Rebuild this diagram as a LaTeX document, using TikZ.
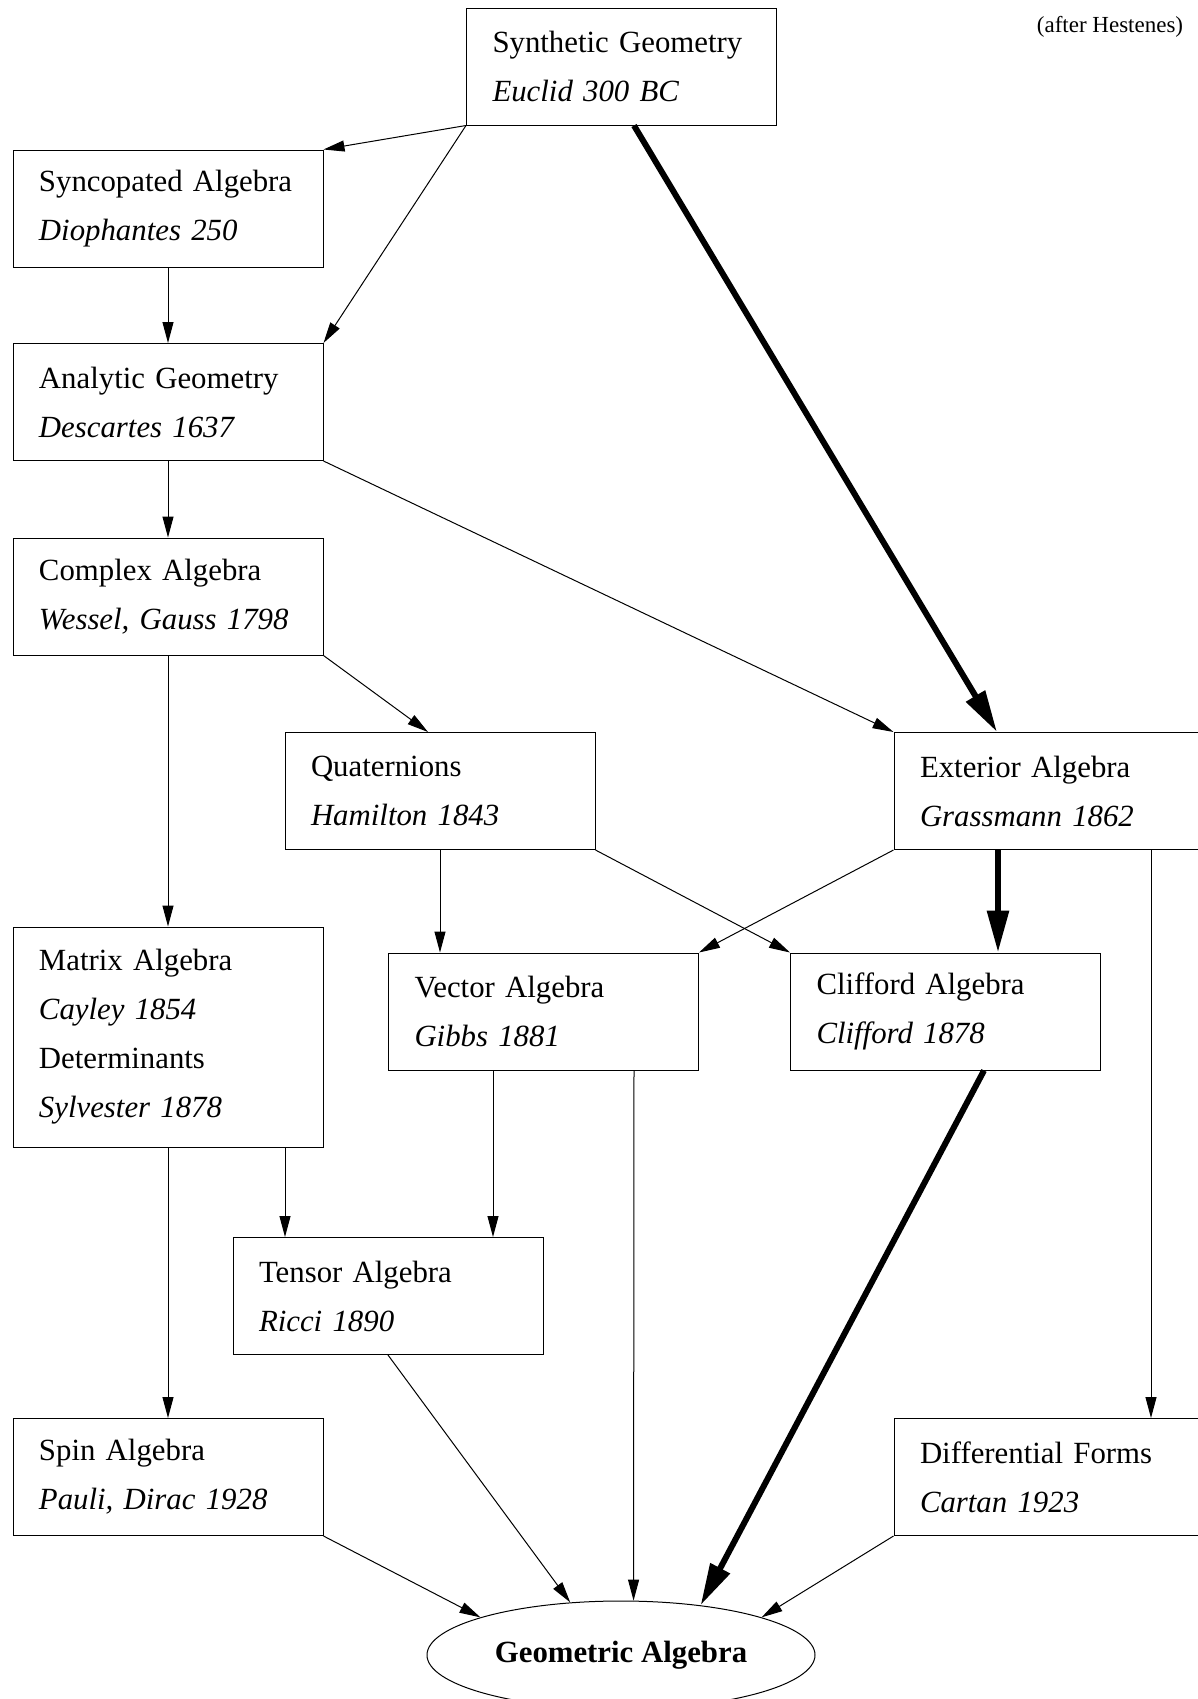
\documentclass[tikz,border=0pt]{standalone}
\usepackage{fontspec}
\setmainfont{Liberation Serif}
\usetikzlibrary{arrows.meta,calc,shapes.geometric}

\tikzset{
  algbox/.style={draw,line width=0.5pt,rectangle,minimum width=155pt,minimum height=58.5pt,
    inner xsep=13pt,inner ysep=0pt,text width=129pt,align=left,
    font=\fontsize{15.4}{24.5}\selectfont},
  thinarr/.style={line width=0.5pt,-{Triangle[length=10.5pt,width=5.5pt]}},
  thickarr/.style={line width=3pt,-{Triangle[length=21pt,width=10.5pt]}}
}

\begin{document}
\begin{tikzpicture}[x=0.5pt,y=-0.5pt]
\useasboundingbox (0,0) rectangle (1198,1699);

\node[font=\fontsize{11.5}{13}\selectfont] (note) at (1110,27) {(after Hestenes)};

\node[algbox] (synth) at (621.5,66.5) {Synthetic Geometry\\\textit{Euclid 300 BC}};
\node[algbox] (sync) at (168,208.5) {Syncopated Algebra\\\textit{Diophantes 250}};
\node[algbox] (analytic) at (168,402) {Analytic Geometry\\\textit{Descartes 1637}};
\node[algbox] (complex) at (168,596.5) {Complex Algebra\\\textit{Wessel, Gauss 1798}};
\node[algbox] (quat) at (440,791) {Quaternions\\\textit{Hamilton 1843}};
\node[algbox] (exterior) at (1049,791) {Exterior Algebra\\\textit{Grassmann 1862}};
\node[algbox,minimum height=110pt] (matrix) at (168,1037) {Matrix Algebra\\\textit{Cayley 1854}\\Determinants\\\textit{Sylvester 1878}};
\node[algbox] (vector) at (543.5,1011.5) {Vector Algebra\\\textit{Gibbs 1881}};
\node[algbox] (clifford) at (945.5,1011.5) {Clifford Algebra\\\textit{Clifford 1878}};
\node[algbox] (tensor) at (388,1296) {Tensor Algebra\\\textit{Ricci 1890}};
\node[algbox] (spin) at (168,1477) {Spin Algebra\\\textit{Pauli, Dirac 1928}};
\node[algbox] (diff) at (1049,1477) {Differential Forms\\\textit{Cartan 1923}};

\node[draw,ellipse,line width=0.5pt,inner sep=0pt,minimum width=194pt,minimum height=54pt,
  font=\fontsize{15.4}{18}\selectfont\bfseries] (ga) at (621,1655) {Geometric Algebra};

% thin connectors
\draw[thinarr] (synth.south west) -- (sync.north east);
\draw[thinarr] (synth.south west) -- (analytic.north east);
\draw[thinarr] (sync.south) -- (analytic.north);
\draw[thinarr] (analytic.south) -- (complex.north);
\draw[thinarr] (analytic.south east) -- (exterior.north west);
\draw[thinarr] (complex.south east) -- ($(quat.north)+(-12,0)$);
\draw[thinarr] (complex.south) -- (matrix.north);
\draw[thinarr] (quat.south) -- (quat.south |- vector.north);
\draw[thinarr] (quat.south east) -- (clifford.north west);
\draw[thinarr] (exterior.south west) -- (vector.north east);
\draw[thinarr] ($(exterior.south)+(102,0)$) -- ($(diff.north)+(102,0)$);
\draw[thinarr] (matrix.south) -- (spin.north);
\draw[thinarr] ($(matrix.south)+(117,0)$) -- ($(tensor.north)+(-103,0)$);
\draw[thinarr] ($(vector.south)+(-50.5,0)$) -- ($(tensor.north)+(105,0)$);
\draw[thinarr] ($(vector.south)+(90.5,0)$) -- (ga.77);
\draw[thinarr] (tensor.south) -- (ga.134);
\draw[thinarr] (spin.south east) -- (ga.165);
\draw[thinarr] (diff.south west) -- (ga.15);

% thick connectors
\draw[thickarr] ($(synth.south)+(12.5,0)$) -- ($(exterior.north)+(-52,0)$);
\draw[thickarr] ($(exterior.south)+(-51,0)$) -- ($(clifford.north)+(52.5,0)$);
\draw[thickarr] ($(clifford.south)+(38.5,0)$) -- (ga.32.5);

\end{tikzpicture}
\end{document}
